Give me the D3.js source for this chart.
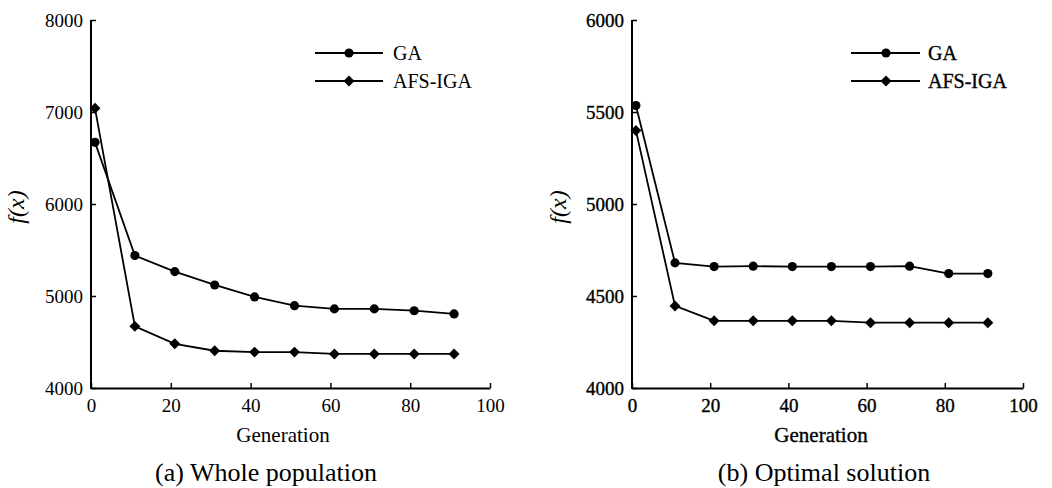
<!DOCTYPE html>
<html>
<head>
<meta charset="utf-8">
<script src="https://cdn.jsdelivr.net/npm/d3@7"></script>
<style>
  body { margin: 0; background: #fff; }
  svg { display: block; font-family: "Liberation Serif", "Times New Roman", serif; }
</style>
</head>
<body>
<div id="graph-container"></div>
<script>
const width = 1052;
const height = 488;

// generations sampled every 10 steps
const generations = [1, 11, 21, 31, 41, 51, 61, 71, 81, 91];
const xTicks = [0, 20, 40, 60, 80, 100];

// (a) whole population
const popGA = [6670, 5440, 5265, 5120, 4990, 4895, 4860, 4860, 4840, 4805];
const popAFS = [7040, 4670, 4480, 4405, 4390, 4390, 4370, 4370, 4370, 4370];
const popTicks = [4000, 5000, 6000, 7000, 8000];

// (b) optimal solution
const optGA = [5535, 4680, 4660, 4662, 4660, 4660, 4660, 4662, 4622, 4622];
const optAFS = [5400, 4446, 4365, 4365, 4365, 4365, 4355, 4355, 4355, 4355];
const optTicks = [4000, 4500, 5000, 5500, 6000];

const seriesNames = ["GA", "AFS-IGA"];

const svg = d3.select("#graph-container")
    .append("svg")
    .attr("width", width)
    .attr("height", height);

const circle = d3.symbol().type(d3.symbolCircle).size(66);
const diamond = d3.symbol().type(d3.symbolSquare).size(60);

drawPanel({
    left: 91, right: 490, top: 20, bottom: 388,
    yDomain: [4000, 8000], yTicks: popTicks,
    ga: popGA, afs: popAFS,
    xLabelX: 283, ylabelX: 24, captionX: 266,
    caption: "(a) Whole population",
    legend: { x0: 315, x1: 383, mx: 349, tx: 393 },
    heavy: false
});

drawPanel({
    left: 632, right: 1023, top: 20, bottom: 388,
    yDomain: [4000, 6000], yTicks: optTicks,
    ga: optGA, afs: optAFS,
    xLabelX: 821, ylabelX: 566, captionX: 824,
    caption: "(b) Optimal solution",
    legend: { x0: 851, x1: 920, mx: 886, tx: 928 },
    heavy: true
});

function drawPanel(cfg) {
    const g = svg.append("g");

    const x = d3.scaleLinear().domain([0, 100]).range([cfg.left, cfg.right]);
    const y = d3.scaleLinear().domain(cfg.yDomain).range([cfg.bottom, cfg.top]);

    const heavyText = sel => {
        if (cfg.heavy) sel.attr("stroke", "#000").attr("stroke-width", 0.35);
    };

    // axes, ticks point inward
    const xAxis = g.append("g")
        .attr("transform", `translate(0,${cfg.bottom})`)
        .call(d3.axisBottom(x).tickValues(xTicks).tickSizeInner(-5).tickSizeOuter(0).tickPadding(11));
    const yAxis = g.append("g")
        .attr("transform", `translate(${cfg.left},0)`)
        .call(d3.axisLeft(y).tickValues(cfg.yTicks).tickFormat(d3.format("d")).tickSizeInner(-5).tickSizeOuter(0).tickPadding(8));

    [xAxis, yAxis].forEach(a => {
        a.select(".domain").attr("stroke", "#000").attr("stroke-width", 2);
        a.selectAll(".tick line").attr("stroke", "#000").attr("stroke-width", 1.5);
        a.selectAll(".tick text")
            .attr("font-family", "Liberation Serif, serif")
            .attr("font-size", 19)
            .attr("fill", "#000")
            .call(heavyText);
    });
    // the y-axis line stops at the x-axis, extend to the corner
    yAxis.select(".domain").attr("d", `M0,${cfg.top}V${cfg.bottom + 1}`);

    // series
    const line = d3.line()
        .x((d, i) => x(generations[i]))
        .y(d => y(d));

    [[cfg.ga, circle], [cfg.afs, diamond]].forEach(([vals, sym], k) => {
        g.append("path")
            .datum(vals)
            .attr("fill", "none")
            .attr("stroke", "#000")
            .attr("stroke-width", 1.8)
            .attr("d", line);

        g.append("g")
            .selectAll("path")
            .data(vals)
            .join("path")
            .attr("d", sym)
            .attr("fill", "#000")
            .attr("transform", (d, i) =>
                `translate(${x(generations[i])},${y(d)})` + (k === 1 ? " rotate(45)" : ""));
    });

    // legend
    const lg = cfg.legend;
    seriesNames.forEach((name, k) => {
        const ly = k === 0 ? 53 : 81;
        g.append("line")
            .attr("x1", lg.x0).attr("x2", lg.x1)
            .attr("y1", ly).attr("y2", ly)
            .attr("stroke", "#000").attr("stroke-width", 1.8);
        g.append("path")
            .attr("d", k === 0 ? circle : diamond)
            .attr("transform", `translate(${lg.mx},${ly})` + (k === 1 ? " rotate(45)" : ""))
            .attr("fill", "#000");
        g.append("text")
            .attr("x", lg.tx).attr("y", ly + 7)
            .attr("font-size", 20)
            .text(name)
            .call(heavyText);
    });

    // axis titles and caption
    g.append("text")
        .attr("x", cfg.xLabelX).attr("y", 442)
        .attr("text-anchor", "middle")
        .attr("font-size", 21)
        .text("Generation")
        .call(heavyText);

    g.append("text")
        .attr("transform", `translate(${cfg.ylabelX},207) rotate(-90)`)
        .attr("text-anchor", "middle")
        .attr("font-size", 24)
        .attr("font-style", "italic")
        .text("f(x)");

    g.append("text")
        .attr("x", cfg.captionX).attr("y", 481)
        .attr("text-anchor", "middle")
        .attr("font-size", 26)
        .text(cfg.caption);
}
</script>
</body>
</html>
